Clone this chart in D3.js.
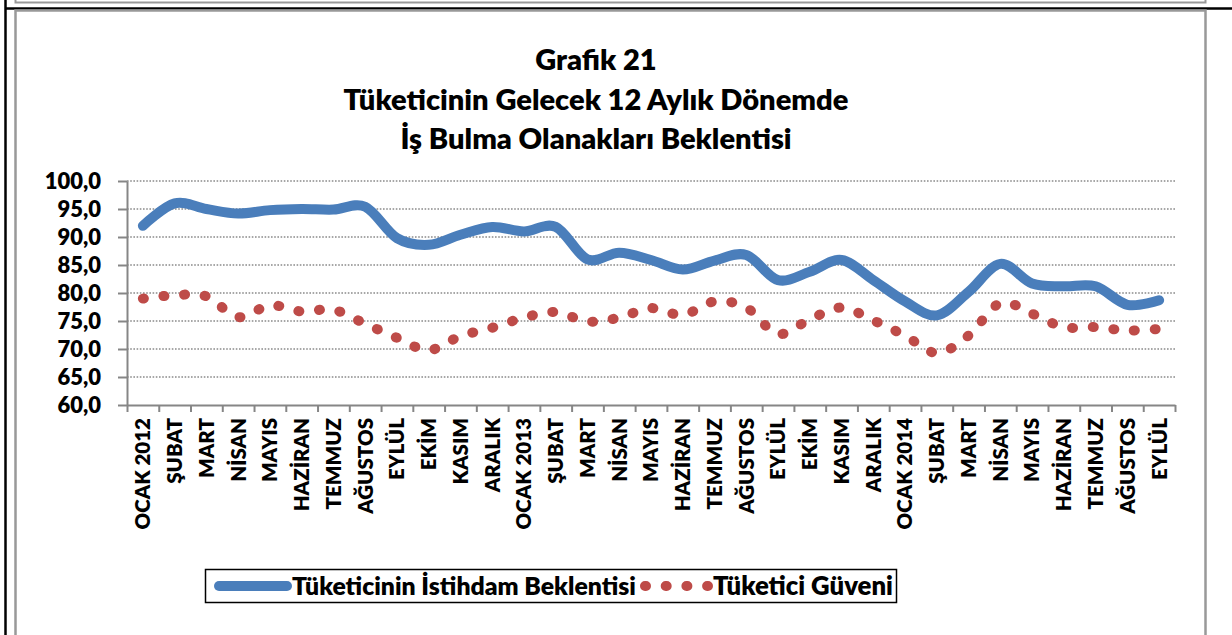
<!DOCTYPE html>
<html>
<head>
<meta charset="utf-8">
<script src="https://cdn.jsdelivr.net/npm/d3@7"></script>
<style>
  body { margin: 0; background: #fff; }
  svg text { font-family: Lato, "Open Sans", sans-serif; font-weight: 800; fill: #000; }
</style>
</head>
<body>
<svg width="1232" height="635"></svg>
<script>
//chart data
const categories = [
  "OCAK 2012", "ŞUBAT", "MART", "NİSAN", "MAYIS", "HAZİRAN", "TEMMUZ", "AĞUSTOS", "EYLÜL", "EKİM", "KASIM", "ARALIK",
  "OCAK 2013", "ŞUBAT", "MART", "NİSAN", "MAYIS", "HAZİRAN", "TEMMUZ", "AĞUSTOS", "EYLÜL", "EKİM", "KASIM", "ARALIK",
  "OCAK 2014", "ŞUBAT", "MART", "NİSAN", "MAYIS", "HAZİRAN", "TEMMUZ", "AĞUSTOS", "EYLÜL"
];
const istihdam = [
  92.0, 96.0, 95.0, 94.2, 94.8, 95.0, 94.9, 95.4, 89.8, 88.6, 90.4, 91.8,
  91.0, 91.8, 86.0, 87.2, 85.9, 84.2, 85.8, 86.8, 82.3, 83.8, 85.9, 82.3,
  78.5, 76.0, 80.2, 85.2, 81.7, 81.2, 81.2, 77.9, 78.7
];
const guven = [
  79.0, 79.6, 79.4, 75.7, 77.8, 76.7, 77.0, 74.5, 72.0, 69.8, 72.3, 73.8,
  75.6, 76.6, 74.9, 75.6, 77.3, 76.1, 78.5, 77.4, 72.7, 75.3, 77.4, 75.1,
  72.4, 69.3, 72.4, 78.2, 76.3, 73.9, 73.9, 73.3, 73.6
];
const yTicks = [60, 65, 70, 75, 80, 85, 90, 95, 100];
const titleLines = ["Grafik 21", "Tüketicinin Gelecek 12 Aylık Dönemde", "İş Bulma Olanakları Beklentisi"];
const seriesNames = ["Tüketicinin İstihdam Beklentisi", "Tüketici Güveni"];

const blue = "#4a7ebb";
const red = "#be4b48";

let svg = d3.select("svg");

// page frame (table cell borders round the chart)
svg.append("line").attr("x1", 5.5).attr("x2", 5.5).attr("y1", 0).attr("y2", 635)
  .attr("stroke", "#000").attr("stroke-width", 2.5);
svg.append("line").attr("x1", 5).attr("x2", 1232).attr("y1", 8.5).attr("y2", 8.5)
  .attr("stroke", "#000").attr("stroke-width", 2.5);
svg.append("path").attr("d", "M15.5,0V2.5H1205.5V0").attr("fill", "none")
  .attr("stroke", "#999").attr("stroke-width", 2);
svg.append("path").attr("d", "M15.5,640V10.5H1205.5V640").attr("fill", "none")
  .attr("stroke", "#999").attr("stroke-width", 2.5);

// plot area
let plotLeft = 127, plotRight = 1175, plotTop = 181, plotBottom = 405;

let x = d3.scaleBand().domain(d3.range(categories.length)).range([plotLeft, plotRight]).padding(0);
let xTick = d3.scaleLinear().domain([0, categories.length]).range([plotLeft, plotRight]);
let y = d3.scaleLinear().domain([60, 100]).range([plotBottom, plotTop]);
let cx = function(i) { return x(i) + x.bandwidth() / 2; };

// title
let title = svg.append("g");
titleLines.forEach(function(t, i) {
  title.append("text")
    .attr("x", 596)
    .attr("y", 60 + i * 39.5)
    .attr("dy", "0.35em")
    .attr("text-anchor", "middle")
    .style("font-size", "26px")
    .text(t);
});
//fit title to the width seen in the picture
let tw = title.selectAll("text").nodes()[1].getComputedTextLength();
title.selectAll("text").style("font-size", (26 * 505 / tw) + "px");

// gridlines
svg.append("g")
  .selectAll("line")
  .data(yTicks.filter(function(d) { return d > 60; }))
  .enter()
  .append("line")
  .attr("x1", plotLeft)
  .attr("x2", plotRight)
  .attr("y1", function(d) { return y(d); })
  .attr("y2", function(d) { return y(d); })
  .attr("stroke", "#8a8a8a")
  .attr("stroke-width", 1.6)
  .attr("stroke-dasharray", "1.6,1.6");

// Y axis
let yAxis = svg.append("g")
  .attr("transform", "translate(" + plotLeft + ",0)")
  .call(
    d3.axisLeft(y)
      .tickValues(yTicks)
      .tickSize(9)
      .tickSizeOuter(0)
      .tickPadding(17)
      .tickFormat(function(d) { return d3.format(".1f")(d).replace(".", ","); })
  );
yAxis.selectAll("text").style("font-size", "22px").attr("fill", "#000");

// X axis: ticks at category edges
let xAxis = svg.append("g")
  .attr("transform", "translate(0," + plotBottom + ")")
  .call(d3.axisBottom(xTick).ticks(categories.length).tickSize(7).tickSizeOuter(0).tickFormat(""));

// X labels, rotated
let xLabels = svg.append("g")
  .attr("transform", "translate(0," + plotBottom + ")")
  .call(d3.axisBottom(x).tickSize(0).tickSizeOuter(0).tickFormat(function(i) { return categories[i]; }));
xLabels.select(".domain").remove();
xLabels.selectAll("text")
  .attr("transform", "rotate(-90)")
  .attr("x", -13)
  .attr("y", 0)
  .attr("dy", "0.36em")
  .attr("text-anchor", "end")
  .attr("fill", "#000")
  .style("font-size", "20.5px");

svg.selectAll(".domain, .tick line").attr("stroke", "#868686").attr("stroke-width", 2);

// lines
let line = d3.line()
  .x(function(d, i) { return cx(i); })
  .y(function(d) { return y(d); })
  .curve(d3.curveCardinal);

//round dot dash: short dash + round caps
svg.append("path")
  .datum(guven)
  .attr("d", line)
  .attr("fill", "none")
  .attr("stroke", red)
  .attr("stroke-width", 10)
  .attr("stroke-linecap", "round")
  .attr("stroke-dasharray", "1,19.7");

svg.append("path")
  .datum(istihdam)
  .attr("d", line)
  .attr("fill", "none")
  .attr("stroke", blue)
  .attr("stroke-width", 10)
  .attr("stroke-linecap", "round")
  .attr("stroke-linejoin", "round");

// legend
let legend = svg.append("g");
legend.append("rect")
  .attr("x", 205.5).attr("y", 569.5).attr("width", 691).attr("height", 33)
  .attr("fill", "#fff").attr("stroke", "#000").attr("stroke-width", 1.5);
legend.append("line")
  .attr("x1", 219).attr("x2", 287).attr("y1", 586).attr("y2", 586)
  .attr("stroke", blue).attr("stroke-width", 10).attr("stroke-linecap", "round");
legend.append("line")
  .attr("x1", 645).attr("x2", 708).attr("y1", 586).attr("y2", 586)
  .attr("stroke", red).attr("stroke-width", 10).attr("stroke-linecap", "round")
  .attr("stroke-dasharray", "1,19.7");
let lt1 = legend.append("text").attr("x", 292).attr("y", 586).attr("dy", "0.35em")
  .style("font-size", "21px").text(seriesNames[0]);
let lt2 = legend.append("text").attr("x", 713).attr("y", 586).attr("dy", "0.35em")
  .style("font-size", "21px").text(seriesNames[1]);
//fit legend texts to the picture
lt1.style("font-size", (21 * 344 / lt1.node().getComputedTextLength()) + "px");
lt2.style("font-size", (21 * 180 / lt2.node().getComputedTextLength()) + "px");
</script>
</body>
</html>
